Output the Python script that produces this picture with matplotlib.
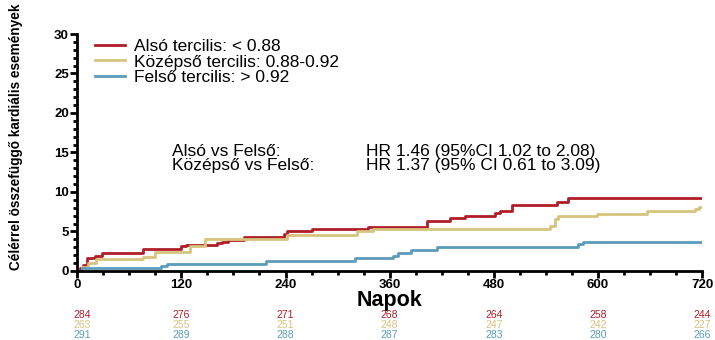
import matplotlib
matplotlib.use("Agg")
import matplotlib.pyplot as plt
from matplotlib.ticker import MultipleLocator

plt.rcParams['font.family'] = ['Liberation Sans', 'DejaVu Sans']

# Step data (day, cumulative events %)
red_days = [0, 3, 7, 11, 21, 28, 76, 119, 125, 161, 167, 174, 192, 238, 242, 270, 335, 403, 430, 447, 481, 487, 501, 553, 566, 720]
red_vals = [0, 0.4, 0.8, 1.6, 1.9, 2.3, 2.75, 3.1, 3.3, 3.5, 3.7, 3.9, 4.35, 4.7, 5.0, 5.28, 5.6, 6.37, 6.67, 7.0, 7.3, 7.6, 8.35, 8.7, 9.2, 9.2]

yel_days = [0, 5, 12, 22, 76, 90, 130, 147, 242, 322, 341, 545, 551, 554, 599, 656, 712, 716, 720]
yel_vals = [0, 0.5, 1.0, 1.5, 1.8, 2.4, 3.2, 4.1, 4.6, 5.0, 5.35, 5.7, 6.6, 6.9, 7.2, 7.6, 7.9, 8.1, 8.1]

blu_days = [0, 5, 96, 103, 218, 320, 364, 370, 385, 414, 577, 583, 720]
blu_vals = [0, 0.35, 0.6, 0.9, 1.3, 1.6, 1.95, 2.25, 2.6, 3.05, 3.4, 3.7, 3.7]

labels = ["Alsó tercilis: < 0.88", "Középső tercilis: 0.88-0.92", "Felső tercilis: > 0.92"]
colors = ["#b01e28", "#d6c47e", "#5c9cbc"]

risk_days = [0, 120, 240, 360, 480, 600, 720]
risk_red = [284, 276, 271, 268, 264, 258, 244]
risk_yel = [263, 255, 251, 248, 247, 242, 227]
risk_blu = [291, 289, 288, 287, 283, 280, 266]

hr_left = ["Alsó vs Felső:", "Középső vs Felső:"]
hr_right = ["HR 1.46 (95%CI 1.02 to 2.08)", "HR 1.37 (95% CI 0.61 to 3.09)"]

fig = plt.figure(figsize=(7.15, 3.4), dpi=100)
ax = fig.add_axes([0.108, 0.203, 0.874, 0.697])

for d, v, c, l in zip([red_days, yel_days, blu_days], [red_vals, yel_vals, blu_vals], colors, labels):
    ax.step(d, v, where='post', color=c, lw=2, label=l)

ax.set_xlim(0, 720)
ax.set_ylim(0, 30)
ax.xaxis.set_major_locator(MultipleLocator(120))
ax.xaxis.set_minor_locator(MultipleLocator(30))
ax.yaxis.set_major_locator(MultipleLocator(5))
ax.yaxis.set_minor_locator(MultipleLocator(1))
for s in ['top', 'right']:
    ax.spines[s].set_visible(False)
for s in ['left', 'bottom']:
    ax.spines[s].set_linewidth(2)
ax.tick_params(axis='both', which='major', direction='out', length=5, width=2, labelsize=9.5, pad=1)
ax.tick_params(axis='both', which='minor', direction='out', length=3, width=2)
for t in ax.get_xticklabels() + ax.get_yticklabels():
    t.set_fontweight('bold')

ax.set_xlabel("Napok", fontsize=15.5, fontweight='bold', labelpad=-1)
fig.text(16 / 715, 1 - 137 / 340, "Célérrel összefüggő kardiális események", rotation=90,
         fontsize=9.8, fontweight='bold', ha='center', va='center')

leg = ax.legend(loc='upper left', bbox_to_anchor=(0.029, 0.978), frameon=False, fontsize=12.5,
                handlelength=1.7, handletextpad=0.5, labelspacing=0.0, borderpad=0,
                borderaxespad=0)

ax.text(0.152, 0.505, hr_left[0], transform=ax.transAxes, fontsize=12.5, va='center')
ax.text(0.152, 0.447, hr_left[1], transform=ax.transAxes, fontsize=12.5, va='center')
ax.text(0.462, 0.505, hr_right[0], transform=ax.transAxes, fontsize=12.5, va='center')
ax.text(0.462, 0.447, hr_right[1], transform=ax.transAxes, fontsize=12.5, va='center')

trans = ax.get_xaxis_transform()
for i, (rows, c) in enumerate(zip([risk_red, risk_yel, risk_blu], colors)):
    for d, n in zip(risk_days, rows):
        x = d + 6 if d == 0 else d
        ax.text(x, -0.186 - i * 0.0425, str(n), transform=trans, ha='center', va='center',
                fontsize=7.5, color=c)

fig.savefig("out.png", dpi=100)
